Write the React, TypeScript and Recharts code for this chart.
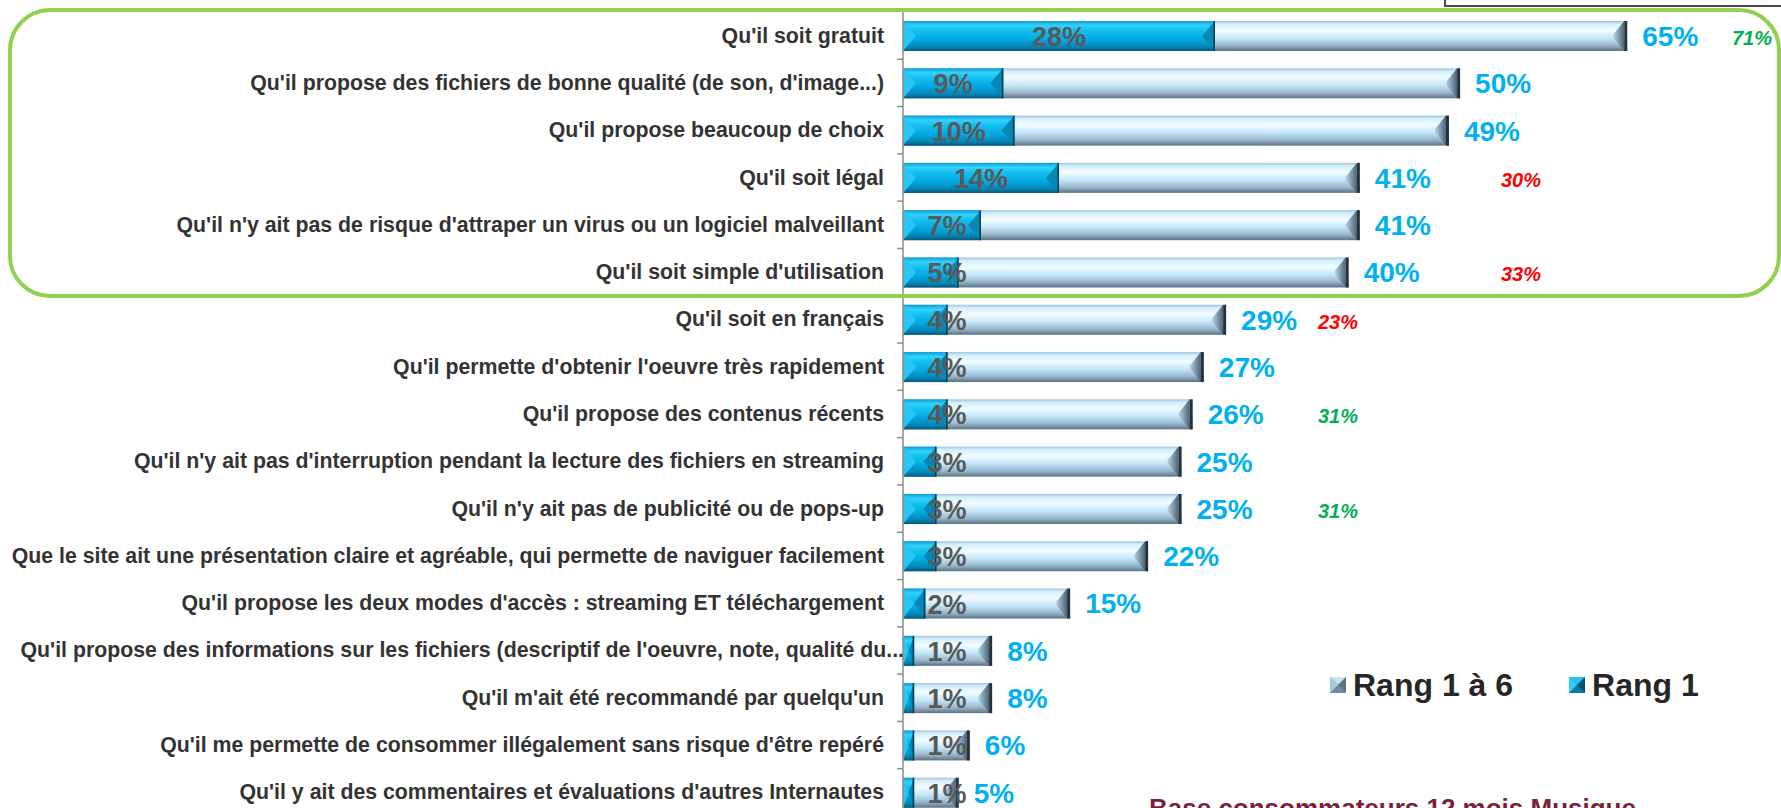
import React from 'react';
import { BarChart, Bar, XAxis, YAxis, LabelList, Legend } from 'recharts';

const categories = [
  "Qu'il soit gratuit",
  "Qu'il propose des fichiers de bonne qualité (de son, d'image...)",
  "Qu'il propose beaucoup de choix",
  "Qu'il soit légal",
  "Qu'il n'y ait pas de risque d'attraper un virus ou un logiciel malveillant",
  "Qu'il soit simple d'utilisation",
  "Qu'il soit en français",
  "Qu'il permette d'obtenir l'oeuvre très rapidement",
  "Qu'il propose des contenus récents",
  "Qu'il n'y ait pas d'interruption pendant la lecture des fichiers en streaming",
  "Qu'il n'y ait pas de publicité ou de pops-up",
  "Que le site ait une présentation claire et agréable, qui permette de naviguer facilement",
  "Qu'il propose les deux modes d'accès : streaming ET téléchargement",
  "Qu'il propose des informations sur les fichiers (descriptif de l'oeuvre, note, qualité du...",
  "Qu'il m'ait été recommandé par quelqu'un",
  "Qu'il me permette de consommer illégalement sans risque d'être repéré",
  "Qu'il y ait des commentaires et évaluations d'autres Internautes",
];

const rang1a6 = [65, 50, 49, 41, 41, 40, 29, 27, 26, 25, 25, 22, 15, 8, 8, 6, 5];
const rang1 = [28, 9, 10, 14, 7, 5, 4, 4, 4, 3, 3, 3, 2, 1, 1, 1, 1];
// valeurs de comparaison (vert si supérieur, rouge si inférieur)
const comparaison = [71, null, null, 30, null, 33, 23, null, 31, null, 31, null, null, null, null, null, null];

const seriesNames = ['Rang 1 à 6', 'Rang 1'];

const data = categories.map((name, i) => ({
  name,
  top6: rang1a6[i],
  top1: rang1[i],
  comp: comparaison[i],
}));

const FONT = 'Liberation Sans, Arial, sans-serif';
const CHART_H = 816;
const MARGIN_TOP = 12;
const BAND = (CHART_H - MARGIN_TOP) / categories.length;
// colonnes des annotations de comparaison
const COMP_COLUMNS = [1338, 1521, 1752];

const PaleBar = (props: any) => {
  const { x, y, width, height } = props;
  if (!width || width <= 0) return null;
  const b = Math.min(14, width / 2);
  return (
    <g>
      <rect x={x} y={y} width={width} height={height} fill="url(#paleGrad)" />
      <polygon
        points={`${x + width - b},${y + height * 0.45} ${x + width - 3},${y} ${x + width - 3},${y + height} ${x + width - b},${y + height * 0.55}`}
        fill="url(#paleEnd)"
      />
      <rect x={x + width - 3} y={y} width={3} height={height} fill="#27323c" />
    </g>
  );
};

const BlueBar = (props: any) => {
  const { x, y, width, height } = props;
  if (!width || width <= 0) return null;
  const b = Math.min(13, width / 2);
  return (
    <g>
      <rect x={x} y={y} width={width} height={height} fill="url(#blueGrad)" />
      <polygon points={`${x},${y} ${x + b},${y + height / 2} ${x},${y + height}`} fill="#29c6f4" />
      <polygon
        points={`${x + width},${y} ${x + width - b},${y + height / 2} ${x + width},${y + height}`}
        fill="#0a86b4"
      />
      <rect x={x + width - 1.5} y={y} width={1.5} height={height} fill="#0b3f55" />
    </g>
  );
};

const CategoryTick = (props: any) => {
  const { x, y, payload } = props;
  const label = String(payload.value);
  // le libellé tronqué déborde jusqu'à l'axe, comme dans l'original
  const tx = label.endsWith('...') ? x + 20 : x;
  return (
    <g>
      <text
        x={tx}
        y={y}
        textAnchor="end"
        dominantBaseline="central"
        fontSize={21.3}
        fontWeight="bold"
        fill="#333333"
        fontFamily={FONT}
      >
        {label}
      </text>
      <line x1={x + 13} x2={x + 19} y1={y + BAND / 2} y2={y + BAND / 2} stroke="#8c8c8c" strokeWidth={1.5} />
    </g>
  );
};

const InsideLabel = (props: any) => {
  const { x, y, width, height, value } = props;
  const cx = Math.max(x + width / 2, x + 44);
  return (
    <text
      x={cx}
      y={y + height / 2 + 1}
      textAnchor="middle"
      dominantBaseline="central"
      fontSize={27}
      fontWeight="bold"
      fill="#595959"
      fontFamily={FONT}
    >
      {value}%
    </text>
  );
};

const CompLabel = (props: any) => {
  const { x, y, width, height, index } = props;
  const v = comparaison[index];
  if (v == null) return null;
  const end = x + width + 105;
  const col = COMP_COLUMNS.find((c) => c >= end) ?? COMP_COLUMNS[COMP_COLUMNS.length - 1];
  return (
    <text
      x={col}
      y={y + height / 2 + 2}
      textAnchor="middle"
      dominantBaseline="central"
      fontSize={20}
      fontWeight="bold"
      fontStyle="italic"
      fill={v > rang1a6[index] ? '#00b050' : '#ff0000'}
      fontFamily={FONT}
    >
      {v}%
    </text>
  );
};

const LegendIcon = ({ kind }: { kind: string }) => (
  <svg width={16} height={16} style={{ display: 'block' }}>
    {kind === 'pale' ? (
      <g>
        <rect x={0} y={0} width={16} height={16} fill="#8fb0c8" />
        <polygon points="0,0 16,0 8,8" fill="#c8e2f2" />
        <polygon points="0,0 8,8 0,16" fill="#a8c8de" />
        <polygon points="16,0 8,8 16,16" fill="#5a7486" />
        <polygon points="0,16 8,8 16,16" fill="#6e8a9e" />
      </g>
    ) : (
      <g>
        <rect x={0} y={0} width={16} height={16} fill="#0aa6dc" />
        <polygon points="0,0 16,0 8,8" fill="#22c4f2" />
        <polygon points="0,0 8,8 0,16" fill="#33ccf6" />
        <polygon points="16,0 8,8 16,16" fill="#05506c" />
        <polygon points="0,16 8,8 16,16" fill="#0a7aa6" />
      </g>
    )}
  </svg>
);

const renderLegend = () => (
  <div style={{ display: 'flex', alignItems: 'center', fontFamily: FONT }}>
    {seriesNames.map((n, i) => (
      <div key={n} style={{ display: 'flex', alignItems: 'center', marginRight: i === 0 ? 56 : 0 }}>
        <LegendIcon kind={i === 0 ? 'pale' : 'blue'} />
        <span style={{ fontSize: 32, fontWeight: 'bold', color: '#262626', marginLeft: 7, lineHeight: '32px' }}>{n}</span>
      </div>
    ))}
  </div>
);

export default function App() {
  return (
    <div
      style={{
        position: 'absolute',
        left: 0,
        top: 0,
        width: 1781,
        height: 808,
        overflow: 'hidden',
        background: '#ffffff',
        fontFamily: FONT,
      }}
    >
      <BarChart
        width={1781}
        height={CHART_H}
        data={data}
        layout="vertical"
        margin={{ top: MARGIN_TOP, right: 0, bottom: 0, left: 0 }}
        barSize={30}
        barGap={-30}
      >
        <defs>
          <linearGradient id="paleGrad" x1="0" y1="0" x2="0" y2="1">
            <stop offset="0%" stopColor="#9cc4de" />
            <stop offset="10%" stopColor="#d4eefb" />
            <stop offset="32%" stopColor="#f2fcff" />
            <stop offset="58%" stopColor="#c2e5f8" />
            <stop offset="82%" stopColor="#98b5c9" />
            <stop offset="100%" stopColor="#5a7183" />
          </linearGradient>
          <linearGradient id="paleEnd" x1="0" y1="0" x2="1" y2="0">
            <stop offset="0%" stopColor="#b4d4e8" />
            <stop offset="100%" stopColor="#4c6274" />
          </linearGradient>
          <linearGradient id="blueGrad" x1="0" y1="0" x2="0" y2="1">
            <stop offset="0%" stopColor="#0a9cd4" />
            <stop offset="15%" stopColor="#34d2fb" />
            <stop offset="32%" stopColor="#14c0f0" />
            <stop offset="62%" stopColor="#02a8e0" />
            <stop offset="86%" stopColor="#0586b6" />
            <stop offset="100%" stopColor="#05587a" />
          </linearGradient>
        </defs>
        <XAxis type="number" domain={[0, 78.8]} hide />
        <YAxis
          type="category"
          dataKey="name"
          width={903}
          interval={0}
          axisLine={{ stroke: '#8c8c8c', strokeWidth: 1.5 }}
          tickLine={false}
          tickSize={0}
          tickMargin={19}
          tick={<CategoryTick />}
        />
        <Legend
          layout="horizontal"
          verticalAlign="middle"
          align="center"
          content={renderLegend}
          wrapperStyle={{ left: 1330, top: 669, width: 420, height: 36 }}
        />
        <Bar dataKey="top6" name={seriesNames[0]} shape={<PaleBar />} isAnimationActive={false}>
          <LabelList
            dataKey="top6"
            position="right"
            offset={15}
            formatter={(v: any) => `${v}%`}
            style={{ fill: '#00b0f0', fontSize: 28, fontWeight: 'bold', fontFamily: FONT }}
          />
          <LabelList dataKey="comp" content={<CompLabel />} />
        </Bar>
        <Bar dataKey="top1" name={seriesNames[1]} shape={<BlueBar />} isAnimationActive={false}>
          <LabelList dataKey="top1" content={<InsideLabel />} />
        </Bar>
      </BarChart>

      {/* cadre vert autour des 6 premiers critères */}
      <div
        style={{
          position: 'absolute',
          left: 8,
          top: 8,
          width: 1773,
          height: 290,
          border: '4px solid #92d050',
          borderRadius: 42,
          boxSizing: 'border-box',
          pointerEvents: 'none',
        }}
      />
      {/* bord du cadre coupé en haut à droite */}
      <div
        style={{
          position: 'absolute',
          left: 1444,
          top: -20,
          width: 400,
          height: 27,
          border: '2px solid #4a4a4a',
          boxSizing: 'border-box',
          pointerEvents: 'none',
        }}
      />
      <div
        style={{
          position: 'absolute',
          left: 1149,
          top: 795,
          fontSize: 26,
          lineHeight: '26px',
          fontWeight: 'bold',
          color: '#7a1f3d',
          whiteSpace: 'nowrap',
        }}
      >
        Base consommateurs 12 mois Musique
      </div>
    </div>
  );
}
